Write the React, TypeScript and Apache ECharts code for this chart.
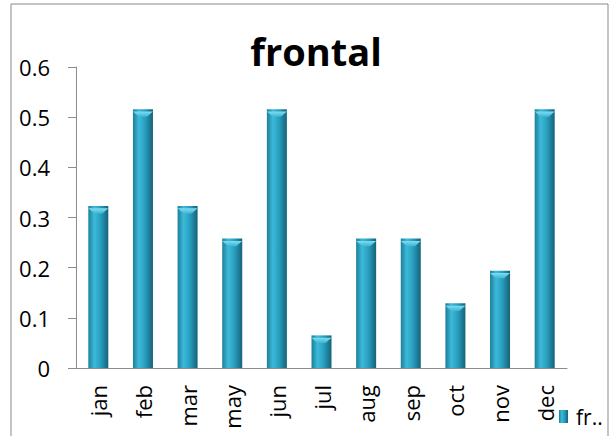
import React, { useEffect, useRef } from "react";
import * as echarts from "echarts";

const months = ["jan", "feb", "mar", "may", "jun", "jul", "aug", "sep", "oct", "nov", "dec"];
const frontal = [0.323, 0.516, 0.323, 0.258, 0.516, 0.065, 0.258, 0.258, 0.129, 0.194, 0.516];
const yTicks = [0, 0.1, 0.2, 0.3, 0.4, 0.5, 0.6];
const seriesName = "frontal";

const cylinder = new echarts.graphic.LinearGradient(0, 0, 1, 0, [
  { offset: 0, color: "#1c7e9a" },
  { offset: 0.3, color: "#3cbad9" },
  { offset: 0.6, color: "#2a9fc0" },
  { offset: 1, color: "#15627a" },
]);

const capShade = new echarts.graphic.LinearGradient(0, 0, 0, 1, [
  { offset: 0, color: "#7fdcf0" },
  { offset: 1, color: "#3cb6d6" },
]);

export default function App() {
  const ref = useRef<HTMLDivElement>(null);

  useEffect(() => {
    document.body.style.margin = "0";
    const chart = echarts.init(ref.current!, null, { renderer: "svg" });
    chart.setOption({
      animation: false,
      backgroundColor: "#ffffff",
      textStyle: { fontFamily: "Open Sans" },
      title: {
        text: seriesName,
        left: 311,
        textAlign: "center",
        top: 27,
        textStyle: { fontSize: 38, fontWeight: "bold", color: "#000", fontFamily: "Open Sans" },
      },
      graphic: [
        {
          type: "rect",
          shape: { x: 11, y: 4, width: 597, height: 450 },
          style: { fill: "none", stroke: "#8a8a8a", lineWidth: 1 },
          silent: true,
        },
      ],
      legend: {
        data: [seriesName],
        left: 559,
        top: 406,
        padding: 0,
        icon: "rect",
        itemWidth: 9,
        itemHeight: 13,
        itemGap: 4,
        formatter: () => "fr..",
        textStyle: { fontSize: 21, color: "#000", padding: [0, 0, 0, 3] },
      },
      grid: { left: 76, right: 43, top: 67, bottom: 68 },
      xAxis: {
        type: "category",
        data: months,
        axisLine: { lineStyle: { color: "#8c8c8c" } },
        axisTick: { length: 7, lineStyle: { color: "#8c8c8c" } },
        axisLabel: { rotate: 90, fontSize: 22, color: "#000", margin: 17 },
      },
      yAxis: {
        type: "value",
        min: yTicks[0],
        max: yTicks[yTicks.length - 1],
        interval: 0.1,
        splitLine: { show: false },
        axisLine: { show: true, lineStyle: { color: "#8c8c8c" } },
        axisTick: { show: true, length: 8, lineStyle: { color: "#8c8c8c" } },
        axisLabel: { fontSize: 22, color: "#000", margin: 26 },
      },
      series: [
        {
          name: seriesName,
          type: "bar",
          data: frontal,
          barWidth: 20,
          itemStyle: { color: cylinder },
        },
        {
          name: "cap",
          type: "pictorialBar",
          data: frontal,
          symbol: "path://M0,0 L20,0 L14,5 L6,5 Z",
          symbolSize: [20, 5],
          symbolPosition: "end",
          symbolOffset: [0, "50%"],
          itemStyle: { color: capShade },
          z: 3,
          silent: true,
        },
      ],
    });
    return () => chart.dispose();
  }, []);

  return <div ref={ref} style={{ width: 610, height: 436 }} />;
}
